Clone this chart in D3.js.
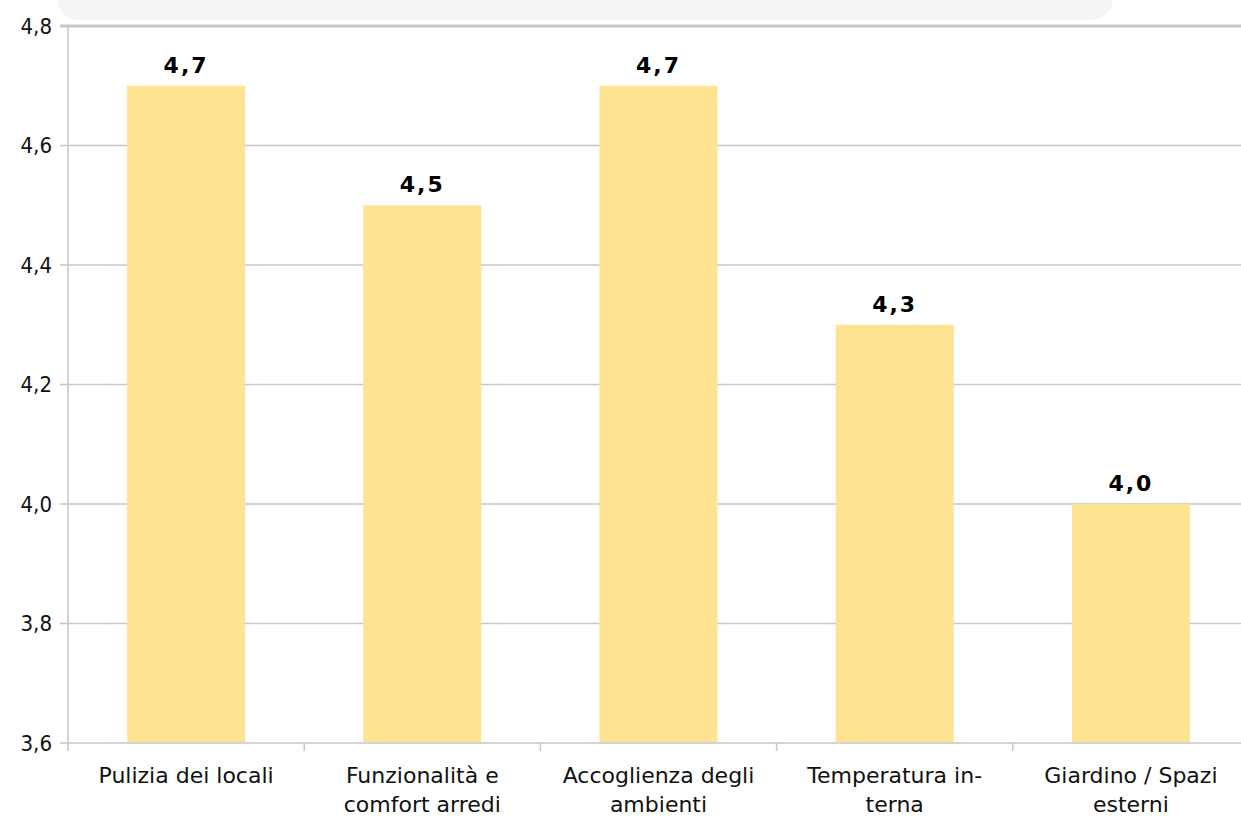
<!DOCTYPE html>
<html>
<head>
<meta charset="utf-8">
<script src="https://cdn.jsdelivr.net/npm/d3@7"></script>
<style>
  body { margin: 0; background: #fff; }
  svg { display: block; font-family: "DejaVu Sans", Verdana, sans-serif; }
</style>
</head>
<body>
<div id="chart"></div>
<script>
// categories (two lines each) and mean scores
const categories = [
  ["Pulizia dei locali"],
  ["Funzionalità e", "comfort arredi"],
  ["Accoglienza degli", "ambienti"],
  ["Temperatura in-", "terna"],
  ["Giardino / Spazi", "esterni"]
];
const scores = [4.7, 4.5, 4.7, 4.3, 4.0];
const yTicks = [3.6, 3.8, 4.0, 4.2, 4.4, 4.6, 4.8];

const W = 1241, H = 817;
const margin = {left: 68, top: 26, bottom: 74};
const plotW = 1181;

const svg = d3.select("#chart").append("svg")
  .attr("width", W).attr("height", H);

// cut-off title box at the top
svg.append("rect")
  .attr("x", 57).attr("y", -40)
  .attr("width", 1056).attr("height", 60)
  .attr("rx", 22)
  .attr("fill", "#f6f4f5");

const x = d3.scaleBand()
  .domain(d3.range(categories.length))
  .range([margin.left, margin.left + plotW])
  .paddingInner(0.5).paddingOuter(0.25);

const y = d3.scaleLinear()
  .domain([3.6, 4.8])
  .range([H - margin.bottom, margin.top]);

const fmt = v => d3.format(".1f")(v).replace(".", ",");

// gridlines
svg.append("g").selectAll("line")
  .data(yTicks).enter().append("line")
    .attr("x1", 60).attr("x2", W)
    .attr("y1", d => y(d)).attr("y2", d => y(d))
    .attr("stroke", "#c6c6c6")
    .attr("stroke-width", d => d === 4.8 ? 3 : 1.5);

// y axis line
svg.append("line")
  .attr("x1", margin.left).attr("x2", margin.left)
  .attr("y1", y(4.8)).attr("y2", y(3.6) + 8)
  .attr("stroke", "#c6c6c6").attr("stroke-width", 1.5);

// y tick labels
svg.append("g").selectAll("text")
  .data(yTicks).enter().append("text")
    .attr("x", 52).attr("y", d => y(d))
    .attr("dy", "0.36em")
    .attr("text-anchor", "end")
    .attr("font-family", "'DejaVu Sans Condensed', 'DejaVu Sans', sans-serif")
    .attr("font-size", 22)
    .attr("fill", "#111")
    .text(fmt);

// x category separators
const step = x.step();
svg.append("g").selectAll("line")
  .data(d3.range(1, categories.length)).enter().append("line")
    .attr("x1", d => margin.left + d * step)
    .attr("x2", d => margin.left + d * step)
    .attr("y1", y(3.6)).attr("y2", y(3.6) + 8)
    .attr("stroke", "#c6c6c6").attr("stroke-width", 1.5);

// bars
svg.append("g").selectAll("rect")
  .data(scores).enter().append("rect")
    .attr("x", (d, i) => x(i))
    .attr("width", x.bandwidth())
    .attr("y", d => y(d))
    .attr("height", d => y(3.6) - y(d) - 1)
    .attr("fill", "#fee492");

// value labels
svg.append("g").selectAll("text")
  .data(scores).enter().append("text")
    .attr("x", (d, i) => x(i) + x.bandwidth() / 2)
    .attr("y", d => y(d) - 13)
    .attr("text-anchor", "middle")
    .attr("font-size", 22)
    .attr("font-weight", "bold")
    .attr("letter-spacing", 2)
    .attr("fill", "#000")
    .text(fmt);

// category labels
const lab = svg.append("g").selectAll("text")
  .data(categories).enter().append("text")
    .attr("text-anchor", "middle")
    .attr("font-size", 22)
    .attr("fill", "#111");
lab.selectAll("tspan")
  .data((d, i) => d.map(s => ({s, i})))
  .enter().append("tspan")
    .attr("x", d => x(d.i) + x.bandwidth() / 2)
    .attr("y", (d, j) => 783 + j * 29)
    .text(d => d.s);
</script>
</body>
</html>
